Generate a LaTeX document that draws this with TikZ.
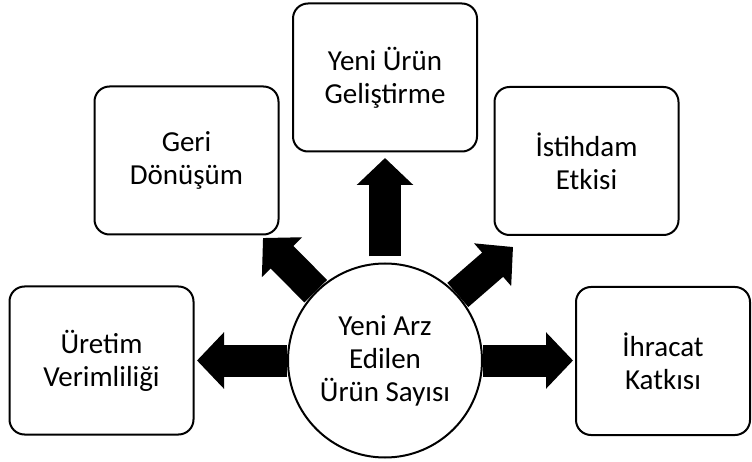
\documentclass[tikz,border=0pt]{standalone}
\usepackage{fontspec}
\setmainfont{Carlito}
\usepackage{tikz}
\usetikzlibrary{arrows.meta}

\begin{document}
\begin{tikzpicture}[x=1pt, y=-1pt,
    every node/.style={font=\fontsize{29}{33}\selectfont, align=center},
    box/.style={draw, line width=2pt, rounded corners=15pt, minimum width=184pt, minimum height=148pt, inner sep=0pt},
    hub/.style={draw, circle, line width=2pt, minimum size=194pt, inner sep=0pt},
    blk/.style={line width=32pt, -{Triangle[width=55pt, length=27pt]}}]
  \useasboundingbox (0,0) rectangle (752,462);
  % center
  \node [hub] (hub) at (385,360.5) {Yeni Arz\\Edilen\\Ürün Sayısı};
  % outer boxes
  \node [box] (verim) at (101.5,360.5) {Üretim\\Verimliliği};
  \node [box] (geri) at (186.5,160.5) {Geri\\Dönüşüm};
  \node [box] (urun) at (385,77.5) {Yeni Ürün\\Geliştirme};
  \node [box] (istih) at (586.5,161) {İstihdam\\Etkisi};
  \node [box, minimum width=174pt] (ihr) at (663,361) {İhracat\\Katkısı};
  % arrow tips
  \coordinate (tipW) at (197,360.5);
  \coordinate (tipE) at (573,360.5);
  \coordinate (tipN) at (385,158);
  \coordinate (tipNW) at (263,238);
  \coordinate (tipNE) at (513,247);
  \draw [blk] (hub.180) -- (tipW);
  \draw [blk] (hub.0) -- (tipE);
  \draw [blk, shorten <=6pt] (hub.90) -- (tipN);
  \draw [blk] (hub.135) -- (tipNW);
  \draw [blk] (hub.42) -- (tipNE);
\end{tikzpicture}
\end{document}
